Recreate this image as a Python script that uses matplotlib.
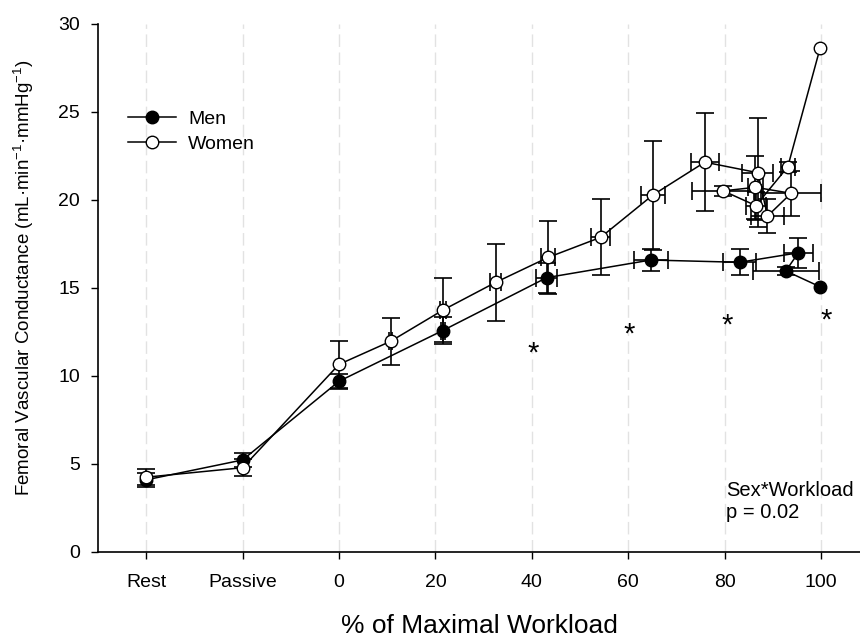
import matplotlib
matplotlib.use("Agg")
import matplotlib.pyplot as plt

plt.rcParams['font.family'] = ['Liberation Sans', 'DejaVu Sans']
plt.rcParams['mathtext.fontset'] = 'custom'
plt.rcParams['mathtext.rm'] = 'Liberation Sans'
plt.rcParams['mathtext.it'] = 'Liberation Sans'

# ---- data ----
tick_pos = [-40, -20, 0, 20, 40, 60, 80, 100]
tick_labels = ["Rest", "Passive", "0", "20", "40", "60", "80", "100"]

men_x = [-40, -20, 0, 21.5, 43.1, 64.7, 83.1, 95.3, 92.7, 99.8]
men_y = [4.1, 5.23, 9.7, 12.58, 15.59, 16.59, 16.46, 17.0, 15.97, 15.07]
men_yerr = [0.4, 0.4, 0.43, 0.75, 0.85, 0.65, 0.73, 0.85, 0.25, 0.0]
men_xerr = [0, 0, 0, 0.4, 2.2, 3.5, 3.4, 3.0, 6.9, 0]

women_x = [-40, -20, 0, 10.7, 21.6, 32.5, 43.4, 54.3, 65.1, 75.9,
           86.9, 88.9, 93.8, 86.4, 79.7, 86.5, 93.1, 99.8]
women_y = [4.25, 4.79, 10.66, 11.97, 13.75, 15.32, 16.74, 17.88, 20.28, 22.15,
           21.55, 19.09, 20.38, 20.72, 20.52, 19.68, 21.88, 28.62]
women_yerr = [0.45, 0.47, 1.33, 1.35, 1.84, 2.2, 2.06, 2.15, 3.1, 2.8,
              3.1, 0.95, 1.29, 1.8, 0.3, 0.8, 0.3, 0.0]
women_xerr = [0, 0, 0, 0.3, 0.6, 1.1, 1.5, 2.0, 2.5, 2.9,
              3.2, 3.5, 6.2, 1.5, 6.4, 2.0, 1.5, 0]

sig_x = [40.3, 60.2, 80.6, 101.0]
sig_y = [11.6, 12.7, 13.2, 13.5]

# ---- figure ----
fig = plt.figure(figsize=(8.6, 6.37), dpi=100)
ax = fig.add_axes([98/860, 85/637, 762/860, 528/637])
ax.set_xlim(-50, -50 + 762/4.82)
ax.set_ylim(0, 30)

for t in tick_pos:
    ax.axvline(t, color='#e2e2e2', lw=1.0, ls=(0, (9, 4)), zorder=0)


def draw_series(xs, ys, yerr, xerr, fill, z):
    err_kw = dict(fmt='none', ecolor='black', elinewidth=1.2, capsize=6.5,
                  capthick=1.2, zorder=z)
    iy = [i for i, e in enumerate(yerr) if e > 0]
    ix = [i for i, e in enumerate(xerr) if e > 0]
    ax.errorbar([xs[i] for i in iy], [ys[i] for i in iy],
                yerr=[yerr[i] for i in iy], **err_kw)
    ax.errorbar([xs[i] for i in ix], [ys[i] for i in ix],
                xerr=[xerr[i] for i in ix], **err_kw)
    line, = ax.plot(xs, ys, color='black', lw=1.1, marker='o', ms=9,
                    mfc=fill, mec='black', mew=1.0, zorder=z + 0.5)
    return line


m = draw_series(men_x, men_y, men_yerr, men_xerr, 'black', 3)
w = draw_series(women_x, women_y, women_yerr, women_xerr, 'white', 4)

for sx, sy in zip(sig_x, sig_y):
    ax.text(sx, sy - 0.8, '*', ha='center', va='baseline', fontsize=21)

ax.text(80.3, 3.18, 'Sex*Workload', ha='left', va='baseline', fontsize=14.5)
ax.text(80.3, 1.93, 'p = 0.02', ha='left', va='baseline', fontsize=14.5)

ax.set_xticks(tick_pos)
ax.set_xticklabels(tick_labels)
ax.set_yticks([0, 5, 10, 15, 20, 25, 30])
ax.tick_params(axis='both', direction='out', length=5, width=1.0, labelsize=14)
ax.tick_params(axis='x', pad=11)
ax.tick_params(axis='y', pad=8)

for s in ['top', 'right']:
    ax.spines[s].set_visible(False)
for s in ['left', 'bottom']:
    ax.spines[s].set_linewidth(1.2)

ax.set_xlabel('% of Maximal Workload', fontsize=19)
ax.xaxis.set_label_coords(0.5, -0.117)
ax.set_ylabel('Femoral Vascular Conductance (mL·min$^{-1}$·mmHg$^{-1}$)', fontsize=13.5)
ax.yaxis.set_label_coords(-0.0814, 0.519)

ax.legend([m, w], ['Men', 'Women'], loc='upper left',
          bbox_to_anchor=(127.7/860, (637-110)/637), bbox_transform=fig.transFigure,
          frameon=False, fontsize=14, handlelength=2.47, handletextpad=0.63,
          labelspacing=0.38, borderpad=0, borderaxespad=0)

fig.savefig('out.png', dpi=100)
